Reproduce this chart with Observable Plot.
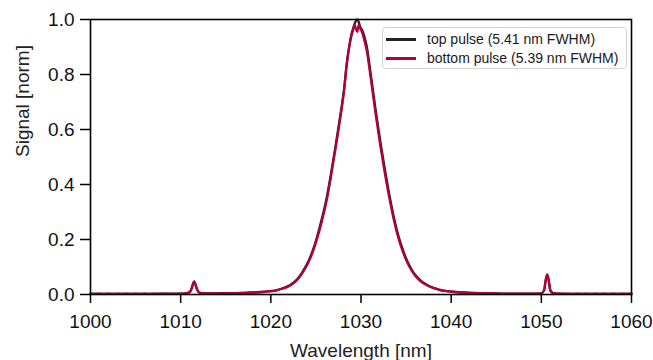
<!DOCTYPE html>
<html>
<head>
<meta charset="utf-8">
<script src="https://cdn.jsdelivr.net/npm/d3@7"></script>
<script src="https://cdn.jsdelivr.net/npm/@observablehq/plot@0.6"></script>
<style>
  html, body { margin: 0; padding: 0; background: #fff; }
  #wrap { position: relative; width: 653px; height: 360px; font-family: "Liberation Sans", Arial, sans-serif; }
  #legend { position: absolute; left: 382px; top: 27px; width: 243px; height: 40px;
    border: 1.5px solid #d4d4d4; border-radius: 4px; background: rgba(255,255,255,0.85); font-size: 14px; color: #1a1a1a; }
  .row { position: absolute; left: 0; height: 18px; line-height: 18px; white-space: nowrap; }
  .sw { position: absolute; left: 3px; top: 8px; width: 30px; height: 2.5px; }
  .lb { position: absolute; left: 44px; top: 0; }
</style>
</head>
<body>
<div id="wrap"></div>
<script>
// Wavelength samples [nm]
const wavelength = [
  1000,1001,1002,1003,1004,1005,1006,1007,1008,1009,1010,
  1010.5,1011,1011.2,1011.4,1011.5,1011.6,1011.8,1012,1012.5,
  1013,1014,1015,1016.15,1017.15,1018.15,1019.15,1020.15,
  1020.65,1021.15,1021.65,1022.15,1022.65,1023.15,1023.65,1024.15,1024.65,1025.15,1025.65,1026.15,1026.65,1027.15,1027.65,1028.15,
  1028.4,1028.65,1028.9,1029.15,
  1029.3,1029.45,1029.6,1029.75,1029.9,
  1030.15,1030.4,1030.65,1030.9,1031.15,
  1031.65,1032.15,1032.65,1033.15,1033.65,1034.15,1034.65,1035.15,1035.65,1036.15,1036.65,1037.15,1037.65,1038.15,1038.65,1039.15,
  1040.15,1041.15,1042.15,1043.15,1044,1045,1046,1047,1048,1049,1050,
  1050.3,1050.5,1050.65,1050.8,1051,1051.3,
  1052,1053,1054,1055,1056,1057,1058,1059,1060
];
// Top pulse (5.41 nm FWHM), normalised signal
const topPulse = [
  0.003,0.002,0.003,0.002,0.003,0.002,0.003,0.002,0.003,0.003,0.003,
  0.004,0.008,0.021,0.042,0.048,0.041,0.021,0.008,0.004,
  0.004,0.004,0.005,0.005,0.006,0.008,0.010,0.013,
  0.016,0.021,0.027,0.035,0.047,0.065,0.090,0.120,0.160,0.212,0.275,0.345,0.435,0.535,0.64,0.755,
  0.835,0.895,0.94,0.97,
  0.985,0.995,1.0,0.99,0.975,
  0.96,0.935,0.90,0.845,0.785,
  0.665,0.555,0.455,0.362,0.28,0.213,0.162,0.12,0.089,0.066,0.05,0.038,0.029,0.023,0.018,0.014,
  0.010,0.008,0.006,0.005,0.004,0.004,0.003,0.003,0.003,0.003,0.004,
  0.015,0.054,0.071,0.054,0.015,0.005,
  0.003,0.002,0.003,0.002,0.003,0.002,0.003,0.002,0.003
];
// Bottom pulse (5.39 nm FWHM), normalised signal
const bottomPulse = [
  0.002,0.003,0.002,0.003,0.002,0.003,0.002,0.003,0.003,0.002,0.003,
  0.004,0.008,0.020,0.040,0.046,0.040,0.020,0.008,0.004,
  0.004,0.004,0.004,0.005,0.006,0.007,0.009,0.012,
  0.015,0.020,0.025,0.033,0.045,0.062,0.086,0.115,0.155,0.205,0.265,0.335,0.425,0.525,0.63,0.75,
  0.83,0.89,0.935,0.965,
  0.98,0.965,0.955,0.98,0.97,
  0.95,0.92,0.885,0.83,0.77,
  0.65,0.54,0.44,0.35,0.27,0.205,0.155,0.115,0.085,0.063,0.047,0.036,0.028,0.022,0.017,0.014,
  0.010,0.007,0.006,0.005,0.004,0.004,0.003,0.003,0.003,0.003,0.004,
  0.015,0.055,0.073,0.055,0.015,0.005,
  0.003,0.003,0.002,0.003,0.002,0.003,0.002,0.003,0.002
];
const seriesNames = ["top pulse (5.41 nm FWHM)", "bottom pulse (5.39 nm FWHM)"];
const seriesColors = ["#222222", "#b3003c"];
const xTicks = [1000, 1010, 1020, 1030, 1040, 1050, 1060];
const yTicks = [0, 0.2, 0.4, 0.6, 0.8, 1.0];

const topData = wavelength.map((w, i) => ({w, s: topPulse[i]}));
const bottomData = wavelength.map((w, i) => ({w, s: bottomPulse[i]}));

const chart = Plot.plot({
  width: 653,
  height: 360,
  marginLeft: 90,
  marginRight: 22,
  marginTop: 19,
  marginBottom: 66,
  style: { fontFamily: "Liberation Sans, Arial, sans-serif", fontSize: "19px", color: "#000", background: "#fff", overflow: "visible" },
  x: { domain: [1000, 1060] },
  y: { domain: [0, 1] },
  marks: [
    Plot.line(topData, { x: "w", y: "s", stroke: seriesColors[0], strokeWidth: 2.3, curve: "monotone-x" }),
    Plot.line(bottomData, { x: "w", y: "s", stroke: seriesColors[1], strokeWidth: 2.3, curve: "monotone-x" }),
    Plot.frame({ stroke: "#000", strokeWidth: 1.6 }),
    Plot.axisX({ ticks: xTicks, tickSize: 9, tickPadding: 11, tickFormat: d3.format("d"), label: null, stroke: "#000", strokeWidth: 1.5, fontSize: 19, fill: "#111" }),
    Plot.axisY({ ticks: yTicks, tickSize: 10, tickPadding: 6, tickFormat: d3.format(".1f"), label: null, stroke: "#000", strokeWidth: 1.5, fontSize: 19, fill: "#111" }),
    Plot.text(["Wavelength [nm]"], { frameAnchor: "bottom", dy: 62, text: d => d, fontSize: 19, fill: "#222" }),
    Plot.text(["Signal [norm]"], { frameAnchor: "left", dx: -68, rotate: -90, text: d => d, fontSize: 19, fill: "#222" })
  ]
});

const wrap = document.getElementById("wrap");
wrap.appendChild(chart);

const legend = document.createElement("div");
legend.id = "legend";
seriesNames.forEach((name, i) => {
  const row = document.createElement("div");
  row.className = "row";
  row.style.top = (2 + i * 19) + "px";
  const sw = document.createElement("div");
  sw.className = "sw";
  sw.style.background = seriesColors[i];
  const lb = document.createElement("div");
  lb.className = "lb";
  lb.textContent = name;
  row.appendChild(sw);
  row.appendChild(lb);
  legend.appendChild(row);
});
wrap.appendChild(legend);
</script>
</body>
</html>
